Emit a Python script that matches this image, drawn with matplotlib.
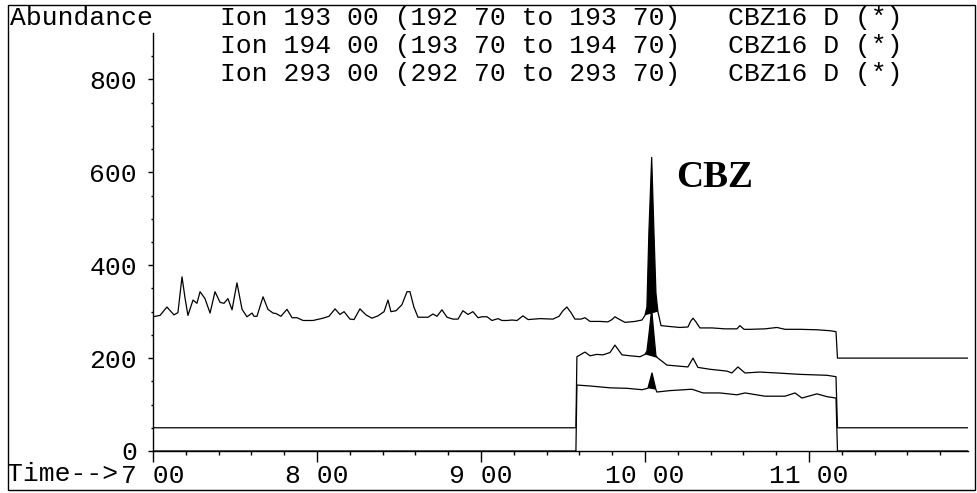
import matplotlib
matplotlib.use("Agg")
import matplotlib.pyplot as plt
from matplotlib.patches import Rectangle
import numpy as np

# ---- data (time in minutes, abundance) ----
t1 = [7.000, 7.043, 7.085, 7.128, 7.152, 7.177, 7.195, 7.213, 7.244, 7.268, 7.287, 7.317,
      7.348, 7.378, 7.409, 7.433, 7.457, 7.482, 7.512, 7.543, 7.573, 7.604, 7.616, 7.634,
      7.671, 7.701, 7.732, 7.750, 7.780, 7.817, 7.848, 7.878, 7.915, 7.976, 8.037, 8.073,
      8.110, 8.140, 8.165, 8.201, 8.226, 8.262, 8.299, 8.335, 8.372, 8.409, 8.433, 8.451,
      8.482, 8.518, 8.549, 8.567, 8.591, 8.616, 8.677, 8.707, 8.732, 8.762, 8.793, 8.829,
      8.860, 8.890, 8.921, 8.951, 8.982, 9.006, 9.037, 9.067, 9.104, 9.128, 9.159, 9.189,
      9.220, 9.256, 9.287, 9.360, 9.439, 9.476, 9.500, 9.524, 9.549, 9.573, 9.610, 9.634,
      9.665, 9.726, 9.774, 9.799, 9.817, 9.841, 9.878, 9.939, 9.982, 10.000, 10.012, 10.024,
      10.041, 10.055, 10.067, 10.079, 10.098, 10.152, 10.213, 10.262, 10.280, 10.293, 10.311,
      10.335, 10.409, 10.488, 10.561, 10.579, 10.604, 10.640, 10.732, 10.805, 10.854, 10.945,
      11.049, 11.128, 11.165, 11.174, 11.970]
ion193 = [289, 292, 310, 293, 298, 375, 330, 292, 325, 318, 343, 328,
          297, 343, 320, 318, 328, 304, 362, 305, 289, 297, 290, 290,
          332, 305, 297, 296, 290, 305, 287, 287, 281, 281, 286, 290,
          306, 294, 300, 284, 283, 306, 293, 286, 291, 300, 325, 300,
          302, 315, 343, 343, 310, 288, 288, 295, 290, 304, 288, 284,
          284, 302, 294, 300, 287, 289, 289, 281, 285, 281, 281, 282,
          281, 291, 283, 285, 284, 290, 302, 310, 298, 284, 284, 287,
          279, 279, 278, 283, 289, 284, 277, 279, 282, 292, 310, 470,
          632, 470, 340, 300, 270, 268, 266, 267, 280, 286, 278,
          265, 265, 263, 263, 270, 262, 262, 263, 266, 262, 262,
          261, 259, 257, 200, 200]

t2 = [7.000, 9.579, 9.585, 9.634, 9.665, 9.707, 9.744, 9.787, 9.817, 9.860, 9.909, 9.970,
      10.000, 10.012, 10.024, 10.041, 10.055, 10.067, 10.079, 10.134, 10.262, 10.293, 10.323,
      10.396, 10.500, 10.530, 10.567, 10.610, 10.700, 10.805, 10.945, 11.110, 11.165, 11.174,
      11.970]
ion194 = [50, 50, 203, 213, 205, 208, 207, 212, 228, 207, 205, 203,
          208, 215, 250, 305, 250, 205, 200, 185, 181, 200, 180,
          176, 172, 168, 181, 168, 170, 168, 165, 163, 160, 50,
          50]

t3 = [7.000, 9.579, 9.585, 9.665, 9.726, 9.787, 9.890, 9.982, 10.018, 10.043, 10.067, 10.073,
      10.152, 10.287, 10.354, 10.457, 10.561, 10.610, 10.732, 10.854, 10.915, 10.957, 11.049,
      11.110, 11.165, 11.174, 11.970]
ion293 = [0, 0, 142, 140, 138, 136, 135, 132, 135, 168, 132, 127,
          130, 133, 125, 125, 121, 125, 118, 118, 125, 114, 123,
          117, 114, 0, 0]

# integrated CBZ peak windows (start, end) in minutes
peak_win1 = (10.000, 10.079)
peak_win2 = (10.000, 10.079)
peak_win3 = (10.018, 10.067)

x_major = [7, 8, 9, 10, 11]
x_labels = ["7 00", "8 00", "9 00", "10 00", "11 00"]
y_major = [0, 200, 400, 600, 800]
y_labels = ["0", "200", "400", "600", "800"]
header = ["Ion 193 00 (192 70 to 193 70)   CBZ16 D (*)",
          "Ion 194 00 (193 70 to 194 70)   CBZ16 D (*)",
          "Ion 293 00 (292 70 to 293 70)   CBZ16 D (*)"]

W, H = 978, 493
MONO = "Liberation Mono"
FS = 19

fig = plt.figure(figsize=(W / 100, H / 100), dpi=100)
ax = fig.add_axes([153 / W, (H - 451) / H, (968 - 153) / W, (451 - 33) / H])

for tt, yy, win in [(t1, ion193, peak_win1), (t2, ion194, peak_win2), (t3, ion293, peak_win3)]:
    tt = np.asarray(tt); yy = np.asarray(yy, float)
    ax.plot(tt, yy, color="black", lw=0.9)
    m = (tt >= win[0] - 1e-9) & (tt <= win[1] + 1e-9)
    px, py = tt[m], yy[m]
    ax.fill(np.r_[px, px[::-1][:1], px[:1]], np.r_[py, py[-1:], py[:1]], color="black", lw=0)

ax.set_xlim(7.0, 11.97)
ax.set_ylim(0, 900)
for s in ["top", "right"]:
    ax.spines[s].set_visible(False)
for s in ["left", "bottom"]:
    ax.spines[s].set_linewidth(1.0)

ax.set_xticks(x_major)
ax.set_xticklabels(x_labels, fontfamily=MONO, fontsize=FS)
ax.set_xticks(np.arange(7.0, 11.97, 0.2), minor=True)
ax.set_yticks(y_major)
ax.set_yticklabels(y_labels, fontfamily=MONO, fontsize=FS)
ax.set_yticks(np.arange(0, 900, 50), minor=True)
ax.tick_params(axis="x", which="major", direction="out", length=8, width=1, pad=1.5)
ax.tick_params(axis="x", which="minor", direction="out", length=3, width=1)
ax.tick_params(axis="y", which="major", direction="out", length=3.6, width=1, pad=8)
ax.tick_params(axis="y", which="minor", direction="out", length=1.5, width=1)

ax.text(10.427, 588, "CBZ", fontfamily="Liberation Serif", fontweight="bold",
        fontsize=27, ha="center", va="center")

fig.text(10 / W, 1 - 18 / H, "Abundance", fontfamily=MONO, fontsize=FS, ha="left", va="center")
for i, line in enumerate(header):
    fig.text(220 / W, 1 - (18 + 28 * i) / H, line, fontfamily=MONO, fontsize=FS,
             ha="left", va="center")
fig.text(118 / W, 1 - 474 / H, "Time-->", fontfamily=MONO, fontsize=FS, ha="right", va="center")

fig.patches.append(Rectangle((8 / W, 3 / H), 967 / W, 485 / H, transform=fig.transFigure,
                             fill=False, edgecolor="black", lw=1.0))

fig.savefig("out.png", dpi=100, facecolor="white")
